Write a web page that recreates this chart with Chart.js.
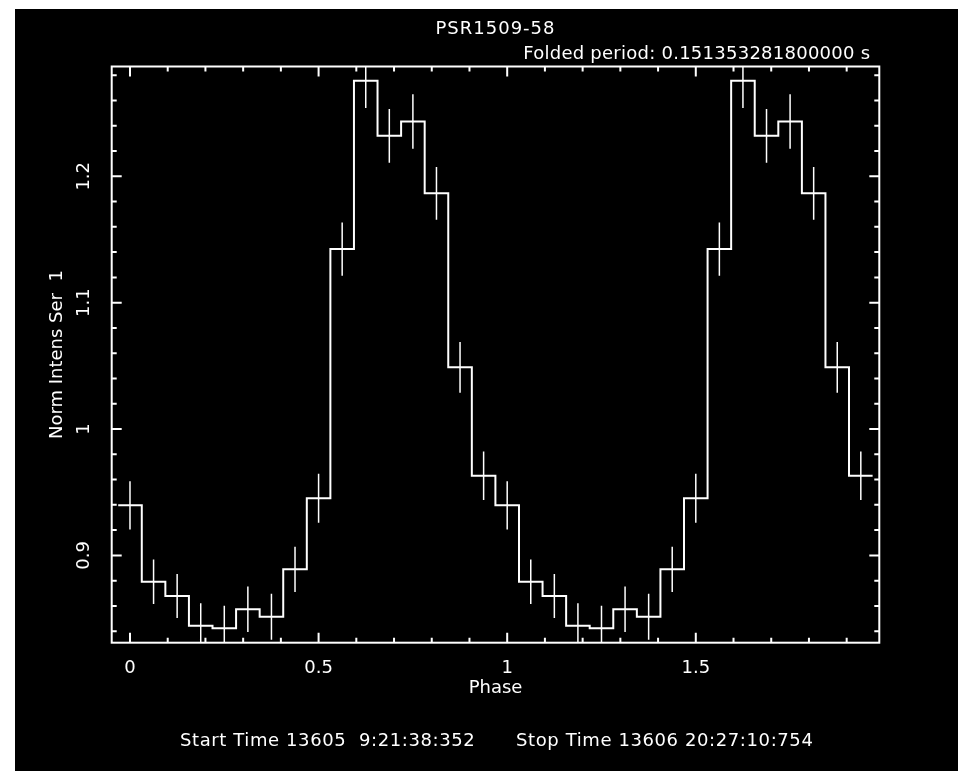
<!DOCTYPE html>
<html>
<head>
<meta charset="utf-8">
<title>PSR1509-58</title>
<script src="https://cdn.jsdelivr.net/npm/chart.js@4/dist/chart.umd.min.js"></script>
<style>
  html, body { margin: 0; padding: 0; background: #fff; overflow: hidden; }
  #wrap { position: absolute; left: 15px; top: 9px; width: 943px; height: 762px; background: #000; }
  canvas { display: block; }
</style>
</head>
<body>
<div id="wrap"><canvas id="foldChart" width="943" height="762"></canvas></div>
<script>
// folded light curve, 16 bins per cycle, two cycles shown
const rate = [
  0.9396, 0.8792, 0.8679, 0.8444, 0.8423, 0.8574, 0.8515, 0.8890,
  0.9452, 1.1424, 1.2756, 1.2320, 1.2434, 1.1865, 1.0488, 0.9631,
  0.9396, 0.8792, 0.8679, 0.8444, 0.8423, 0.8574, 0.8515, 0.8890,
  0.9452, 1.1424, 1.2756, 1.2320, 1.2434, 1.1865, 1.0488, 0.9631
];
const rateErr = [
  0.0191, 0.0176, 0.0174, 0.0177, 0.0178, 0.0180, 0.0182, 0.0179,
  0.0194, 0.0211, 0.0216, 0.0212, 0.0215, 0.0209, 0.0200, 0.0192,
  0.0191, 0.0176, 0.0174, 0.0177, 0.0178, 0.0180, 0.0182, 0.0179,
  0.0194, 0.0211, 0.0216, 0.0212, 0.0215, 0.0209, 0.0200, 0.0192
];
const binWidth = 1 / 16;
const phase = rate.map((_, i) => i * binWidth);   // bin centres

const xTicks = [0, 0.5, 1, 1.5];
const yTicks = [0.9, 1, 1.1, 1.2];

const titleText = 'PSR1509-58';
const periodText = 'Folded period: 0.151353281800000 s';
const startText = 'Start Time 13605  9:21:38:352';
const stopText = 'Stop Time 13606 20:27:10:754';

// histogram outline: left edge of every bin, then the right edge of the last one
const steps = phase.map((p, i) => ({ x: p - binWidth / 2, y: rate[i] }));
steps.push({ x: phase[phase.length - 1] + binWidth / 2, y: rate[rate.length - 1] });

Chart.defaults.font.family = '"DejaVu Sans", sans-serif';
Chart.defaults.font.size = 18;
Chart.defaults.color = '#fff';

const pgplotBox = {
  id: 'pgplotBox',
  afterDatasetsDraw(chart) {
    const { ctx, chartArea: a, scales: { x, y } } = chart;
    ctx.save();

    // error bars
    ctx.beginPath();
    ctx.rect(a.left, a.top, a.right - a.left, a.bottom - a.top);
    ctx.clip();
    ctx.strokeStyle = '#fff';
    ctx.lineWidth = 1.5;
    ctx.beginPath();
    phase.forEach((p, i) => {
      const px = x.getPixelForValue(p);
      ctx.moveTo(px, y.getPixelForValue(rate[i] - rateErr[i]));
      ctx.lineTo(px, y.getPixelForValue(rate[i] + rateErr[i]));
    });
    ctx.stroke();
    ctx.restore();

    // frame with inward ticks on all four sides
    ctx.save();
    ctx.strokeStyle = '#fff';
    ctx.lineWidth = 2;
    ctx.strokeRect(a.left, a.top, a.right - a.left, a.bottom - a.top);
    ctx.beginPath();
    for (let k = 0; k <= 19; k++) {
      const v = k / 10;
      const len = k % 5 === 0 ? 10 : 5;
      const px = x.getPixelForValue(v);
      ctx.moveTo(px, a.bottom); ctx.lineTo(px, a.bottom - len);
      ctx.moveTo(px, a.top); ctx.lineTo(px, a.top + len);
    }
    for (let k = 42; k <= 64; k++) {
      const v = k / 50;
      if (v < y.min || v > y.max) continue;
      const len = k % 5 === 0 ? 10 : 5;
      const py = y.getPixelForValue(v);
      ctx.moveTo(a.left, py); ctx.lineTo(a.left + len, py);
      ctx.moveTo(a.right, py); ctx.lineTo(a.right - len, py);
    }
    ctx.stroke();
    ctx.restore();
  },
  afterDraw(chart) {
    const { ctx, chartArea: a } = chart;
    ctx.save();
    ctx.fillStyle = '#fff';
    ctx.font = '18px "DejaVu Sans"';
    ctx.textBaseline = 'alphabetic';
    ctx.textAlign = 'center';
    ctx.letterSpacing = '1px';
    ctx.fillText(titleText, (a.left + a.right) / 2, 24.5);
    ctx.textAlign = 'right';
    ctx.letterSpacing = '0.25px';
    ctx.fillText(periodText, a.right - 9, 49.5);
    ctx.textAlign = 'left';
    ctx.letterSpacing = '0.6px';
    ctx.fillText(startText, 165, 737);
    ctx.fillText(stopText, 501, 737);
    ctx.restore();
  }
};

new Chart(document.getElementById('foldChart'), {
  type: 'line',
  data: {
    datasets: [{
      data: steps,
      stepped: true,
      borderColor: '#fff',
      borderWidth: 2,
      pointRadius: 0,
      fill: false
    }]
  },
  options: {
    responsive: false,
    animation: false,
    layout: { padding: { left: 0, top: 57.5, right: 78.7, bottom: 0 } },
    scales: {
      x: {
        type: 'linear',
        min: -0.0485,
        max: 1.9865,
        afterFit: s => { s.height = 128.3; },
        afterBuildTicks: s => { s.ticks = xTicks.map(v => ({ value: v })); },
        grid: { display: false },
        border: { display: false },
        ticks: { color: '#fff', padding: 7, maxRotation: 0, callback: v => String(v) },
        title: { display: true, text: 'Phase', color: '#fff', padding: { top: 0, bottom: 72 } }
      },
      y: {
        type: 'linear',
        min: 0.8309,
        max: 1.2869,
        afterFit: s => { s.width = 96.7; },
        afterBuildTicks: s => { s.ticks = yTicks.map(v => ({ value: v })); },
        grid: { display: false },
        border: { display: false },
        ticks: { color: '#fff', padding: 5, minRotation: 90, maxRotation: 90, crossAlign: 'center', callback: v => String(v) },
        title: { display: true, text: 'Norm Intens Ser  1', color: '#fff', padding: { top: 32, bottom: 0 } }
      }
    },
    plugins: {
      legend: { display: false },
      tooltip: { enabled: false }
    }
  },
  plugins: [pgplotBox]
});
</script>
</body>
</html>
